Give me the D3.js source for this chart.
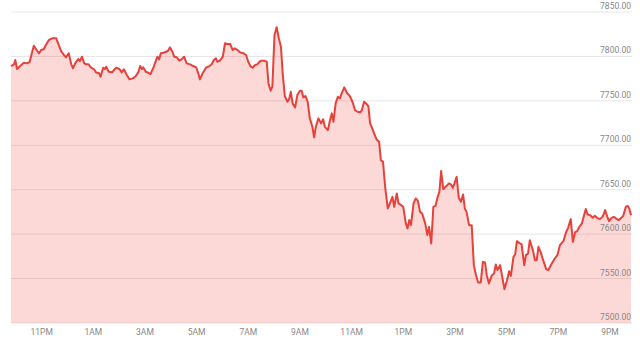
<!DOCTYPE html>
<html>
<head>
<meta charset="utf-8">
<script src="https://cdn.jsdelivr.net/npm/d3@7"></script>
<style>
  html, body { margin: 0; padding: 0; background: #fff; }
  svg { display: block; }
  text { font-family: Roboto, "Liberation Sans", sans-serif; }
</style>
</head>
<body>
<svg id="chart" width="640" height="340"></svg>
<script>
// Minutes elapsed since the start of the window (21:50)
const minutes = [0,7,10,14,24,30,36,43,53,61,65,70,76,81,88,96,105,111,117,123,128,134,140,144,149,156,160,165,170,175,180,186,193,198,204,208,214,218,221,227,235,241,245,252,257,262,269,275,283,290,296,300,304,307,313,319,324,331,337,340,344,348,354,360,365,369,375,379,385,391,396,402,408,416,423,430,435,439,445,453,461,466,471,476,479,485,492,497,501,509,515,520,526,532,540,546,551,557,561,567,572,577,582,588,594,598,603,607,612,617,622,627,631,636,642,646,650,654,660,665,671,675,679,684,689,694,700,704,708,714,720,725,729,736,741,745,749,754,759,764,768,774,780,787,793,799,805,811,815,820,826,830,834,839,844,849,855,859,864,869,875,880,886,890,896,900,906,911,917,921,925,929,935,940,945,950,955,962,967,971,976,981,986,991,995,999,1004,1012,1017,1022,1026,1030,1035,1040,1045,1050,1054,1058,1064,1070,1075,1080,1085,1091,1096,1101,1105,1110,1117,1122,1126,1130,1136,1141,1146,1152,1157,1161,1167,1171,1175,1182,1186,1192,1196,1201,1205,1212,1217,1221,1225,1230,1236,1243,1248,1256,1263,1269,1275,1283,1289,1294,1300,1305,1310,1315,1320,1326,1329,1335,1339,1345,1351,1356,1361,1368,1374,1380,1385,1389,1395,1400,1405,1411,1416,1422,1428,1432,1436,1440];
const prices = [7789.2,7791.1,7796,7785.8,7790.3,7792.9,7792.2,7793.4,7812.1,7806.1,7803.5,7807.2,7808,7812.8,7818.5,7820.4,7820.4,7812.8,7805.3,7801.6,7799,7803.5,7791.1,7786.6,7792.2,7797.1,7794.8,7799.7,7792.2,7791.1,7791.1,7787.3,7785.5,7781.6,7781.6,7777.1,7787.3,7785.8,7788.4,7782.8,7782.1,7785.8,7787.3,7785.8,7782.1,7785.5,7779.1,7774.2,7775.3,7777.9,7782.8,7789.2,7785.8,7787.7,7782.8,7781.6,7780.2,7787.7,7795.9,7799.7,7796.7,7803.5,7804.2,7805.3,7806.4,7810.2,7805.3,7799.7,7799,7795.2,7796.7,7799.7,7792.2,7791.1,7789.2,7787.7,7781,7774.2,7781,7787.3,7789.2,7791.1,7796,7797.9,7794,7795.2,7799.7,7814.8,7814,7814,7807.2,7809.1,7807.2,7804.6,7803.5,7801.6,7794,7788.4,7787.3,7790.3,7791.1,7794,7795.2,7795.2,7794,7769.7,7761.4,7765.9,7824.1,7832.8,7820.4,7810.9,7781,7755.4,7749,7751.7,7760.2,7747.2,7742.7,7756.5,7761.4,7761.4,7753.9,7755.4,7749,7730.3,7720.8,7708.9,7720.8,7730.3,7724.7,7729.2,7720.8,7717.1,7728.4,7735.9,7726.5,7747.2,7754.6,7752.8,7758.4,7765.2,7759.1,7755.4,7749,7739.6,7737.7,7737,7739.6,7749,7746.4,7744.1,7724.7,7719,7712.6,7706.6,7703.9,7683.3,7681.4,7653.3,7628.9,7634.6,7642,7630.7,7645.8,7634.6,7632.7,7630.7,7612.1,7606.4,7615.8,7610.1,7634.6,7640.2,7637.5,7625.1,7623.3,7612.1,7598.9,7608.2,7589.5,7630.7,7631.9,7642,7647.6,7671,7650.7,7654.4,7657.1,7656,7652.1,7657.1,7664.5,7640.9,7636.4,7644.7,7628.9,7625.1,7610.1,7610.1,7565.1,7553.8,7545.6,7545.6,7568.8,7568.1,7553.8,7544.5,7553.8,7555.8,7565.9,7559.5,7565.1,7551.9,7538.1,7548.2,7558.3,7553,7574.4,7577.1,7592.1,7589.5,7588.4,7565.1,7576.4,7578.3,7593.2,7582,7570.7,7570.7,7585.7,7580.1,7570.7,7560.6,7559.5,7567,7572.6,7576.4,7587.6,7592.1,7601.9,7607.1,7616.9,7591.3,7601.9,7603.4,7608.2,7612.1,7617.7,7628.2,7622.2,7621.4,7618.4,7620.6,7618.4,7616.9,7619.5,7627,7619.5,7614.6,7618.4,7619.5,7617.7,7615.8,7617.7,7620.6,7630.7,7631.9,7628.9,7621.4];
const yTicks = [7500, 7550, 7600, 7650, 7700, 7750, 7800, 7850];
const xTickLabels = ["11PM","1AM","3AM","5AM","7AM","9AM","11AM","1PM","3PM","5PM","7PM","9PM"];

const start = new Date(2019, 0, 1, 21, 50);
const end = new Date(2019, 0, 2, 21, 50);
const data = minutes.map((m, i) => ({ t: new Date(start.getTime() + m * 60000), v: prices[i] }));

const svg = d3.select("#chart");
const x = d3.scaleTime().domain([start, end]).range([11, 631]);
const y = d3.scaleLinear().domain([7500, 7850]).range([323, 12]);

// gridlines
svg.append("g").selectAll("line").data(yTicks).join("line")
  .attr("x1", 11).attr("x2", 632)
  .attr("y1", d => y(d)).attr("y2", d => y(d))
  .attr("stroke", "#e6e6e6").attr("stroke-width", 1);

// area
svg.append("path").datum(data)
  .attr("d", d3.area().x(d => x(d.t)).y0(y(7500)).y1(d => y(d.v)))
  .attr("fill", "#ef4136").attr("fill-opacity", 0.2);

// line
svg.append("path").datum(data)
  .attr("d", d3.line().x(d => x(d.t)).y(d => y(d.v)))
  .attr("fill", "none").attr("stroke", "#e8403a").attr("stroke-width", 2)
  .attr("stroke-linejoin", "round");

// y labels
svg.append("g").selectAll("text").data(yTicks).join("text")
  .attr("x", 631).attr("y", d => y(d) - 3)
  .attr("text-anchor", "end")
  .attr("font-size", 8.5).attr("fill", "#888")
  .text(d => d3.format(".2f")(d));

// x axis ticks at odd hours
const xTicks = d3.timeHour.range(start, end).filter(d => d.getHours() % 2 === 1);
const xAxis = d3.axisBottom(x).tickValues(xTicks).tickSize(0)
  .tickFormat((d, i) => xTickLabels[i]);
const gx = svg.append("g").attr("transform", "translate(0,326)").call(xAxis);
gx.select(".domain").remove();
gx.selectAll("text").attr("font-size", 8.5).attr("fill", "#888")
  .attr("font-family", "Roboto, 'Liberation Sans', sans-serif");
</script>
</body>
</html>
